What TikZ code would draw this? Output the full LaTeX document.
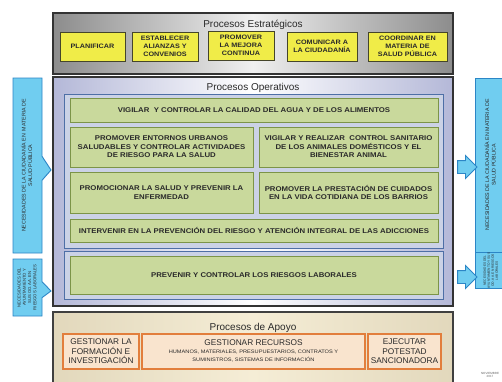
\documentclass[tikz,border=0pt]{standalone}
\usepackage{fontspec}
\setmainfont{Liberation Sans}
\newfontfamily\widefont[FakeStretch=1.13]{Liberation Sans}
\usetikzlibrary{shapes.arrows,shapes.callouts,shadows}
\definecolor{yel}{HTML}{F0EC48}
\definecolor{yelb}{HTML}{45452A}
\definecolor{grn}{HTML}{C9D99C}
\definecolor{grnb}{HTML}{7C9448}
\definecolor{pnl}{HTML}{CBD2E6}
\definecolor{pnlb}{HTML}{4E6FA6}
\definecolor{org}{HTML}{F9E4CE}
\definecolor{orgb}{HTML}{E27E3C}
\definecolor{bei}{HTML}{F5EDD6}
\definecolor{beid}{HTML}{E2D8BC}
\definecolor{sky}{HTML}{70CDF0}
\definecolor{skyb}{HTML}{2C86C6}
\definecolor{txt}{HTML}{2A2A2A}
\definecolor{lav}{HTML}{B4B8D8}
\tikzset{
  base/.style={inner sep=0pt, outer sep=0pt, align=center, text=txt},
  strat/.style={base, draw=black!80, line width=1.2pt, left color=black!45, right color=black!45, middle color=black!6},
  oper/.style={base, draw=black!80, line width=1.2pt, left color=lav, right color=lav, middle color=white},
  apoyo/.style={base, draw=black!75, line width=1.2pt, left color=beid, right color=beid, middle color=bei},
  panel/.style={base, draw=pnlb, line width=1pt, fill=pnl},
  ybox/.style={base, draw=yelb, line width=1pt, fill=yel, font=\widefont\fontsize{6.4}{7.8}\selectfont\bfseries, drop shadow={shadow xshift=1pt, shadow yshift=-1pt, opacity=0.35}},
  gbox/.style={base, draw=grnb, line width=0.9pt, fill=grn, font=\widefont\fontsize{6.9}{8.6}\selectfont\bfseries, drop shadow={shadow xshift=1pt, shadow yshift=-1.2pt, opacity=0.35}},
  obox/.style={base, draw=orgb, line width=1.4pt, fill=org, font=\fontsize{8.3}{9.6}\selectfont},
  title/.style={base, font=\fontsize{10}{11}\selectfont},
  call/.style={base, rectangle callout, draw=skyb, line width=0.9pt, fill=sky, callout pointer width=24pt},
  side/.style={base, draw=skyb, line width=0.9pt, fill=sky},
  barrow/.style={single arrow, draw=skyb, line width=0.9pt, fill=sky, inner sep=6pt, single arrow head extend=5pt, minimum height=19pt, outer sep=0pt}
}
\begin{document}
\begin{tikzpicture}[x=1pt,y=-1pt]
\useasboundingbox (0,0) rectangle (502,381);
\clip (0,0) rectangle (502,381);
\fill[white] (0,0) rectangle (502,381);

% Strategic
\node[strat, minimum width=400pt, minimum height=61pt] (est) at (253,43.5) {};
\node[title] (estt) at (253,24.5) {Procesos Estratégicos};
\node[ybox, minimum width=65pt, minimum height=29pt] (y1) at (92.5,46.5) {PLANIFICAR};
\node[ybox, minimum width=66pt, minimum height=29pt] (y2) at (165,46.5) {ESTABLECER\\ALIANZAS Y\\CONVENIOS};
\node[ybox, minimum width=66pt, minimum height=29pt] (y3) at (241,45.5) {PROMOVER\\LA MEJORA\\CONTINUA};
\node[ybox, minimum width=70pt, minimum height=29pt] (y4) at (322,46.5) {COMUNICAR A\\LA CIUDADANÍA};
\node[ybox, minimum width=79pt, minimum height=29pt] (y5) at (407.5,46.5) {COORDINAR EN\\MATERIA DE\\SALUD PÚBLICA};

% Operative
\node[oper, minimum width=400pt, minimum height=229pt] (ope) at (253,191.5) {};
\node[title] (opet) at (253,87.5) {Procesos Operativos};
\node[panel, minimum width=379pt, minimum height=154pt] (p1) at (253.5,171) {};
\node[panel, minimum width=379pt, minimum height=48pt] (p2) at (253.5,275) {};
\node[gbox, minimum width=368pt, minimum height=24pt] (g1) at (254,110) {VIGILAR \ Y CONTROLAR LA CALIDAD DEL AGUA Y DE LOS ALIMENTOS};
\node[gbox, minimum width=183pt, minimum height=40pt] (g2) at (161.5,147) {PROMOVER ENTORNOS URBANOS\\SALUDABLES Y CONTROLAR ACTIVIDADES\\DE RIESGO PARA LA SALUD};
\node[gbox, minimum width=179pt, minimum height=40pt] (g3) at (348.5,147) {VIGILAR Y REALIZAR \ CONTROL SANITARIO\\DE LOS ANIMALES DOMÉSTICOS Y EL\\BIENESTAR ANIMAL};
\node[gbox, minimum width=183pt, minimum height=41pt] (g4) at (161.5,192.5) {PROMOCIONAR LA SALUD Y PREVENIR LA\\ENFERMEDAD};
\node[gbox, minimum width=179pt, minimum height=41pt] (g5) at (348.5,192.5) {PROMOVER LA PRESTACIÓN DE CUIDADOS\\EN LA VIDA COTIDIANA DE LOS BARRIOS};
\node[gbox, minimum width=368pt, minimum height=23pt] (g6) at (254,230.5) {INTERVENIR EN LA PREVENCIÓN DEL RIESGO Y ATENCIÓN INTEGRAL DE LAS ADICCIONES};
\node[gbox, minimum width=368pt, minimum height=38pt] (g7) at (254,275) {PREVENIR Y CONTROLAR LOS RIESGOS LABORALES};

% Support
\node[apoyo, minimum width=400pt, minimum height=76pt] (apo) at (253,350) {};
\node[title] (apot) at (253,327.5) {Procesos de Apoyo};
\node[obox, minimum width=76pt, minimum height=35pt] (o1) at (101,351.5) {GESTIONAR LA\\FORMACIÓN E\\INVESTIGACIÓN};
\node[obox, minimum width=223pt, minimum height=35pt] (o2) at (253.5,351.5) {\begin{tabular}{@{}c@{}}GESTIONAR RECURSOS\\[-1.5pt]\widefont\fontsize{5}{5.6}\selectfont HUMANOS, MATERIALES, PRESUPUESTARIOS, CONTRATOS Y\\[-2pt]\widefont\fontsize{5}{5.6}\selectfont SUMINISTROS, SISTEMAS DE INFORMACIÓN\end{tabular}};
\node[obox, minimum width=73pt, minimum height=35pt] (o3) at (404.5,351.5) {EJECUTAR\\POTESTAD\\SANCIONADORA};

% Left callouts
\node[call, minimum width=29pt, minimum height=175pt, callout absolute pointer={(51,170)}] (l1) at (27.5,165.5)
  {\rotatebox{90}{\fontsize{5.3}{6.4}\selectfont\begin{tabular}{@{}c@{}}NECESIDADES DE LA CIUDADANÍA EN \ MATERIA DE\\SALUD PÚBLICA\end{tabular}}};
\node[call, minimum width=29pt, minimum height=57pt, callout pointer width=16pt, callout absolute pointer={(51,291)}] (l2) at (27.5,287.5)
  {\rotatebox{90}{\fontsize{4.2}{5.2}\selectfont\begin{tabular}{@{}c@{}}NECESIDADES DEL\\AYUNTAMIENTO Y\\SUS OO. AA. EN\\RIESGOS LABORALES\end{tabular}}};

% Right boxes
\node[side, minimum width=32pt, minimum height=174pt] (r1) at (491,165) 
  {\rotatebox{90}{\fontsize{5.3}{6.4}\selectfont\begin{tabular}{@{}c@{}}NECESIDADES DE LA CIUDADANÍA EN MATERIA DE\\SALUD PÚBLICA\end{tabular}}};
\node[side, minimum width=32pt, minimum height=34pt] (r2) at (491,270.5)
  {\rotatebox{90}{\fontsize{3.2}{4}\selectfont\begin{tabular}{@{}c@{}}NECESIDADES DEL\\AYUNTAMIENTO Y SUS\\OO. AA. EN RIESGOS\\LABORALES\end{tabular}}};
\node[barrow] (a1) at (464,167) {};
\node[barrow] (a2) at (464,277) {};

% date
\node[base, font=\fontsize{3}{3.6}\selectfont, text=black!60] (nov) at (490,375) {NOVIEMBRE\\2017};
\end{tikzpicture}
\end{document}
